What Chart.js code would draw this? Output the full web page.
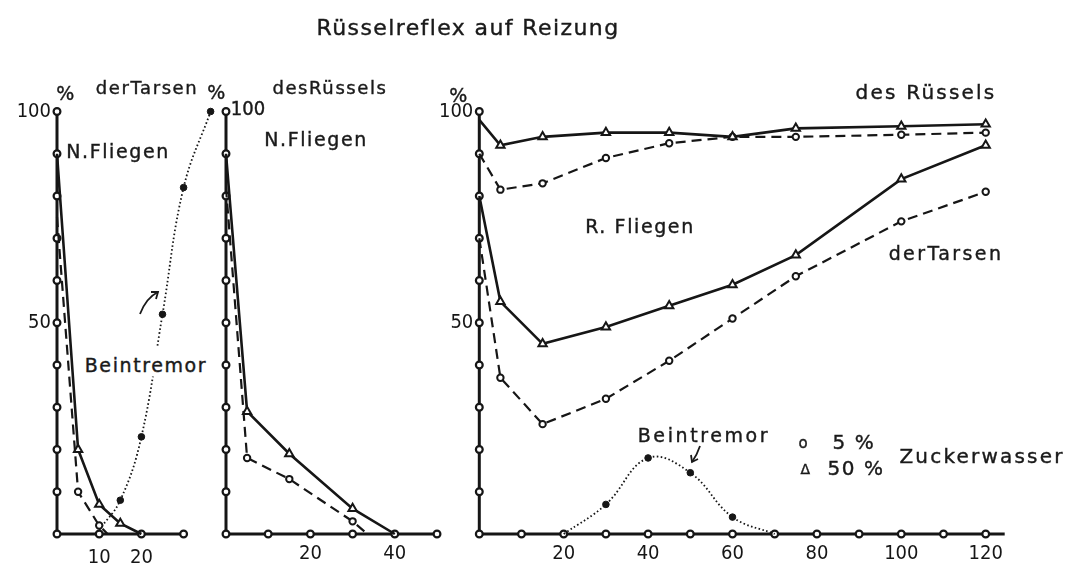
<!DOCTYPE html>
<html>
<head>
<meta charset="utf-8">
<script src="https://cdn.jsdelivr.net/npm/chart.js@4.4.1/dist/chart.umd.min.js"></script>
<style>
  html, body { margin: 0; padding: 0; background: #fff; }
  #wrap { position: relative; width: 1071px; height: 569px; overflow: hidden;
          font-family: "DejaVu Sans", sans-serif; color: #1a1a1a; }
  #wrap canvas { position: absolute; left: 0; top: 0; }
  #wrap svg { position: absolute; left: 0; top: 0; }
  .lbl { position: absolute; transform: translate(-50%, -50%); white-space: nowrap;
         font-size: 19px; letter-spacing: 1.6px; line-height: 1;
         -webkit-text-stroke: 0.4px #1a1a1a; }
  .cond { font-family: "DejaVu Sans Condensed", "DejaVu Sans", sans-serif; }
</style>
</head>
<body>
<div id="wrap">
  <canvas id="p1" width="1071" height="569"></canvas>
  <canvas id="p2" width="1071" height="569"></canvas>
  <canvas id="p3" width="1071" height="569"></canvas>

  <svg width="1071" height="569" fill="none" stroke="#1a1a1a" stroke-width="1.8">
    <path d="M140 314 Q146 298 158 292" />
    <path d="M151 292 L158 292 L156 299" />
    <path d="M700 446 Q697 455 692 462" />
    <path d="M691 455 L692 462 L698 459" />
  </svg>

  <div class="lbl" style="left:468px; top:28px; font-size:22px; letter-spacing:1.4px;">Rüsselreflex auf Reizung</div>

  <div class="lbl" style="left:66px; top:93px;">%</div>
  <div class="lbl" style="left:147px; top:88px; font-size:18px;">derTarsen</div>
  <div class="lbl" style="left:118px; top:151px;">N.Fliegen</div>
  <div class="lbl" style="left:146px; top:362px; background:#fff; padding:8px 0 2px;">Beintremor</div>

  <div class="lbl" style="left:217px; top:92px;">%</div>
  <div class="lbl cond" style="left:248px; top:108px; font-size:20px; letter-spacing:0;">100</div>
  <div class="lbl" style="left:330px; top:88px; font-size:18px;">desRüssels</div>
  <div class="lbl" style="left:316px; top:139px;">N.Fliegen</div>

  <div class="lbl" style="left:459px; top:95px;">%</div>
  <div class="lbl" style="left:926px; top:92px; font-size:20px; letter-spacing:2.2px;">des Rüssels</div>
  <div class="lbl" style="left:640px; top:226px;">R. Fliegen</div>
  <div class="lbl" style="left:946px; top:253px; letter-spacing:2.4px;">derTarsen</div>
  <div class="lbl" style="left:704px; top:435px; letter-spacing:2.6px;">Beintremor</div>
  <div class="lbl" style="left:804px; top:443px; font-size:15px;">o</div>
  <div class="lbl" style="left:854px; top:442px; font-size:20px;">5 %</div>
  <div class="lbl" style="left:806px; top:469px; font-size:14px;">Δ</div>
  <div class="lbl" style="left:856px; top:468px; font-size:20px;">50 %</div>
  <div class="lbl" style="left:982px; top:456px; font-size:20px; letter-spacing:2.2px;">Zuckerwasser</div>
</div>

<script>
// --- panel 1: N.Fliegen, Reizung der Tarsen (x: s) ---
const tarsenN_x50 = [0, 5, 10, 15, 20];
const tarsenN_y50 = [90, 20, 7, 2.5, 0];
const tarsenN_x5 = [0, 5, 10, 12];
const tarsenN_y5 = [75, 10, 2, 0];
const tremorN_x = [10, 15, 20, 25, 30, 36.4];
const tremorN_y = [1, 8, 23, 52, 82, 100];

// --- panel 2: N.Fliegen, Reizung des Rüssels ---
const ruesselN_x50 = [0, 5, 15, 30, 40];
const ruesselN_y50 = [90, 29, 19, 6, 0];
const ruesselN_x5 = [0, 5, 15, 30, 33.5];
const ruesselN_y5 = [82, 18, 13, 3, 0];

// --- panel 3: R.Fliegen ---
const rFliegen_x = [0, 5, 15, 30, 45, 60, 75, 100, 120];
const ruesselR_y50 = [98, 92, 94, 95, 95, 94, 96, 96.5, 97];
const ruesselR_y5 = [90, 81.5, 83, 89, 92.5, 94, 94, 94.5, 95];
const tarsenR_y50 = [80, 55, 45, 49, 54, 59, 66, 84, 92];
const tarsenR_y5 = [70, 37, 26, 32, 41, 51, 61, 74, 81];
const tremorR_x = [20, 30, 40, 50, 60, 70];
const tremorR_y = [0, 7, 18, 14.5, 4, 0];

// tick labels
const yLabels = [50, 100];
const p1XLabels = [10, 20];
const p2XLabels = [20, 40];
const p3XLabels = [20, 40, 60, 80, 100, 120];

const INK = '#161616';
const TICK_FONT = { family: "'DejaVu Sans Condensed', 'DejaVu Sans', sans-serif", size: 20 };
const PX_PER_UNIT = 4.22;

// ===================================
// --- helpers ---
// ===================================

const xy = (xs, ys) => xs.map((x, i) => ({ x, y: ys[i] }));
// no marker where the line meets an axis (the axis dot is there already)
const markerR = r => ctx => (ctx.raw && (ctx.raw.x === 0 || ctx.raw.y <= 1)) ? 0 : r;

function solid(xs, ys) {
    return {
        data: xy(xs, ys), clip: false,
        borderColor: INK, borderWidth: 2.6,
        pointStyle: 'triangle', pointRadius: markerR(4.8),
        pointBorderColor: INK, pointBorderWidth: 2, pointBackgroundColor: '#fff'
    };
}

function dashed(xs, ys) {
    return {
        data: xy(xs, ys), clip: false,
        borderColor: INK, borderWidth: 2.2, borderDash: [10, 6],
        pointStyle: 'circle', pointRadius: markerR(3.2),
        pointBorderColor: INK, pointBorderWidth: 2, pointBackgroundColor: '#fff'
    };
}

function dotted(xs, ys) {
    return {
        data: xy(xs, ys), clip: false,
        borderColor: INK, borderWidth: 1.8, borderDash: [1.6, 2.4], tension: 0.4,
        pointStyle: 'circle', pointRadius: markerR(3.3),
        pointBorderColor: INK, pointBorderWidth: 1, pointBackgroundColor: INK
    };
}

// axis lines with the little open circles at every 10
const axisDots = {
    id: 'axisDots',
    beforeDatasetsDraw(chart, args, opts) {
        const { ctx, scales: { x, y } } = chart;
        const x0 = x.getPixelForValue(0);
        const y0 = y.getPixelForValue(0);
        ctx.save();
        ctx.strokeStyle = INK;
        ctx.lineWidth = 3;
        ctx.beginPath();
        ctx.moveTo(x0, y.getPixelForValue(100));
        ctx.lineTo(x0, y0);
        ctx.lineTo(x.getPixelForValue(opts.xEnd), y0);
        ctx.stroke();

        ctx.lineWidth = 2.2;
        ctx.fillStyle = '#fff';
        const dot = (px, py) => {
            ctx.beginPath();
            ctx.arc(px, py, 3.4, 0, Math.PI * 2);
            ctx.fill();
            ctx.stroke();
        };
        y.ticks.forEach(t => dot(x0, y.getPixelForValue(t.value)));
        x.ticks.filter(t => t.value > 0 && t.value <= opts.xEnd && t.value % 10 === 0)
            .forEach(t => dot(x.getPixelForValue(t.value), y0));
        ctx.restore();
    }
};

function makePanel(id, panel, datasets) {
    const right = 1071 - (panel.axisLeft + panel.xMax * PX_PER_UNIT);
    return new Chart(document.getElementById(id), {
        type: 'line',
        data: { datasets },
        options: {
            responsive: false,
            animation: false,
            events: [],
            layout: { padding: { top: 111.5, right, left: 0, bottom: 0 } },
            plugins: {
                legend: { display: false },
                tooltip: { enabled: false },
                axisDots: { xEnd: panel.xEnd }
            },
            scales: {
                x: {
                    type: 'linear', min: 0, max: panel.xMax,
                    grid: { display: false, drawTicks: false },
                    border: { display: false },
                    ticks: {
                        stepSize: 10, autoSkip: false, maxRotation: 0, includeBounds: false,
                        padding: panel.xPad, color: INK, font: TICK_FONT,
                        callback: v => panel.xLabels.includes(v) ? String(v) : ''
                    },
                    afterFit: s => { s.height = 35; }
                },
                y: {
                    min: 0, max: 100,
                    grid: { display: false, drawTicks: false },
                    border: { display: false },
                    ticks: {
                        stepSize: 10, autoSkip: false, padding: 6, color: INK, font: TICK_FONT,
                        callback: v => panel.yLabels.includes(v) ? String(v) : ''
                    },
                    afterFit: s => { s.width = panel.axisLeft; }
                }
            }
        },
        plugins: [axisDots]
    });
}

// ===================================
// --- panels ---
// ===================================

makePanel('p1', { axisLeft: 57, xMax: 38, xEnd: 30, xPad: 12, xLabels: p1XLabels, yLabels: yLabels }, [
    solid(tarsenN_x50, tarsenN_y50),
    dashed(tarsenN_x5, tarsenN_y5),
    dotted(tremorN_x, tremorN_y)
]);

makePanel('p2', { axisLeft: 226, xMax: 50, xEnd: 50, xPad: 8, xLabels: p2XLabels, yLabels: [] }, [
    solid(ruesselN_x50, ruesselN_y50),
    dashed(ruesselN_x5, ruesselN_y5)
]);

makePanel('p3', { axisLeft: 479.3, xMax: 125, xEnd: 124.5, xPad: 8, xLabels: p3XLabels, yLabels: yLabels }, [
    solid(rFliegen_x, ruesselR_y50),
    dashed(rFliegen_x, ruesselR_y5),
    solid(rFliegen_x, tarsenR_y50),
    dashed(rFliegen_x, tarsenR_y5),
    dotted(tremorR_x, tremorR_y)
]);
</script>
</body>
</html>
